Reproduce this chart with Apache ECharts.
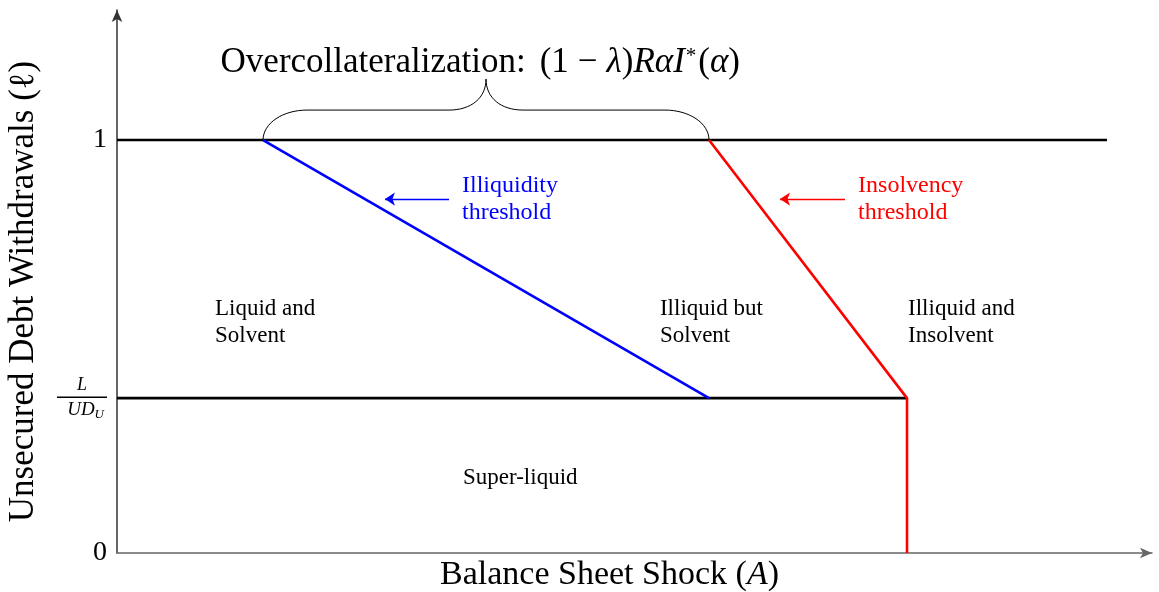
<!DOCTYPE html>
<html>
<head>
<meta charset="utf-8">
<script src="https://cdn.jsdelivr.net/npm/echarts@6/dist/echarts.min.js"></script>
<style>
  html, body { margin: 0; padding: 0; background: #fff; }
  #chart { width: 1159px; height: 592px; }
</style>
</head>
<body>
<div id="chart"></div>
<script>
const serif = '"Liberation Serif", "Times New Roman", serif';

const xMax = 10;
const yMax = 1.315;
const fracTick = 0.375;
const yTicks = [0, fracTick, 1];

// thresholds (x = balance sheet shock, y = withdrawals)
const topLine = [[0, 1], [9.565, 1]];
const liquidLine = [[0, fracTick], [7.633, fracTick]];
const illiquidity = [[1.411, 1], [5.72, fracTick]];
const insolvency = [[5.72, 1], [7.633, fracTick], [7.633, 0]];

// brace: [from x, to x, at y]
const brace = [[1.411, 5.72, 1]];
const braceTitle = [[3.51, 1.186]];

const regionLabels = [
  [0.947, 0.559, "Liquid and\nSolvent"],
  [5.246, 0.559, "Illiquid but\nSolvent"],
  [7.643, 0.559, "Illiquid and\nInsolvent"],
  [3.343, 0.182, "Super-liquid"],
];
const illiqNote = [[3.333, 0.856, "Illiquidity\nthreshold"]];
const insolvNote = [[7.16, 0.856, "Insolvency\nthreshold"]];
const illiqArrow = [[3.208, 0.857], [2.589, 0.857]];
const insolvArrow = [[7.034, 0.857], [6.406, 0.857]];

const chart = echarts.init(document.getElementById("chart"));

function textSeries(rows, style) {
  return {
    type: "custom",
    data: rows.map((r) => [r[0], r[1]]),
    silent: true,
    z: 5,
    renderItem(params, api) {
      const p = api.coord([api.value(0), api.value(1)]);
      return {
        type: "text",
        x: p[0],
        y: p[1],
        style: Object.assign({ text: rows[params.dataIndex][2] }, style),
      };
    },
  };
}

function lineSeries(data, color) {
  return {
    type: "line",
    data,
    symbol: "none",
    silent: true,
    lineStyle: { color, width: 2.6 },
  };
}

function arrowSeries(coords, color) {
  return {
    type: "lines",
    coordinateSystem: "cartesian2d",
    silent: true,
    symbol: ["none", "arrow"],
    symbolSize: 10,
    lineStyle: { color, width: 1.3, opacity: 1 },
    data: [{ coords }],
  };
}

chart.setOption({
  animation: false,
  backgroundColor: "#fff",
  grid: { left: 117, right: 7, top: 10, bottom: 39, outerBoundsMode: "none" },
  xAxis: {
    type: "value",
    min: 0,
    max: xMax,
    name: "{a|Balance Sheet Shock (}{i|A}{a|)}",
    nameLocation: "middle",
    nameGap: 5,
    nameTextStyle: {
      padding: [0, 50, 0, 0],
      rich: {
        a: { fontFamily: serif, fontSize: 34, color: "#000" },
        i: { fontFamily: serif, fontSize: 34, fontStyle: "italic", color: "#000" },
      },
    },
    axisLine: {
      onZero: false,
      symbol: ["none", "arrow"],
      symbolSize: [8, 12],
      lineStyle: { color: "#666", width: 1.5 },
    },
    axisTick: { show: false },
    axisLabel: { show: false },
    splitLine: { show: false },
  },
  yAxis: {
    type: "value",
    min: 0,
    max: yMax,
    name: "Unsecured Debt Withdrawals (\u2113)",
    nameLocation: "middle",
    nameGap: 76,
    nameTextStyle: {
      fontFamily: serif,
      fontSize: 35,
      color: "#000",
      padding: [0, 20, 0, 0],
    },
    axisLine: {
      onZero: false,
      symbol: ["none", "arrow"],
      symbolSize: [8, 12],
      lineStyle: { color: "#333", width: 1.5 },
    },
    axisTick: { show: false },
    splitLine: { show: false },
    axisLabel: {
      customValues: yTicks,
      margin: 10,
      fontFamily: serif,
      fontSize: 28,
      color: "#000",
      formatter(v) {
        if (v === fracTick) {
          return "{n|L}\n{bar| }\n{d|UD}{s|U}";
        }
        return String(v);
      },
      rich: {
        n: { fontFamily: serif, fontStyle: "italic", fontSize: 18, width: 50, align: "center", lineHeight: 20, color: "#000" },
        bar: { width: 50, height: 1.5, lineHeight: 4, backgroundColor: "#000", fontSize: 1 },
        d: { fontFamily: serif, fontStyle: "italic", fontSize: 19, lineHeight: 22, color: "#000" },
        s: { fontFamily: serif, fontStyle: "italic", fontSize: 13, lineHeight: 14, verticalAlign: "bottom", padding: [0, 3, 0, 0], color: "#000" },
      },
    },
  },
  series: [
    lineSeries(topLine, "#000"),
    lineSeries(liquidLine, "#000"),
    lineSeries(illiquidity, "#0000ff"),
    lineSeries(insolvency, "#ff0000"),
    arrowSeries(illiqArrow, "#0000ff"),
    arrowSeries(insolvArrow, "#ff0000"),
    {
      type: "custom",
      data: brace,
      silent: true,
      renderItem(params, api) {
        const a = api.coord([api.value(0), api.value(2)]);
        const b = api.coord([api.value(1), api.value(2)]);
        const y0 = a[1];
        const yf = y0 - 30;
        const yt = y0 - 61;
        const xm = (a[0] + b[0]) / 2;
        const st = { stroke: "#000", fill: "none", lineWidth: 1 };
        const bez = (x1, y1, c1x, c1y, c2x, c2y, x2, y2) => ({
          type: "bezierCurve",
          shape: { x1, y1, cpx1: c1x, cpy1: c1y, cpx2: c2x, cpy2: c2y, x2, y2 },
          style: st,
        });
        return {
          type: "group",
          children: [
            bez(a[0], y0, a[0], y0 - 17, a[0] + 20, yf, a[0] + 44, yf),
            { type: "line", shape: { x1: a[0] + 44, y1: yf, x2: xm - 37, y2: yf }, style: st },
            bez(xm - 37, yf, xm - 15, yf, xm, yf - 12, xm, yt),
            bez(xm, yt, xm, yf - 12, xm + 15, yf, xm + 37, yf),
            { type: "line", shape: { x1: xm + 37, y1: yf, x2: b[0] - 44, y2: yf }, style: st },
            bez(b[0] - 44, yf, b[0] - 20, yf, b[0], y0 - 17, b[0], y0),
          ],
        };
      },
    },
    textSeries(
      braceTitle.map((r) => [r[0], r[1], "{t|Overcollateralization:}{g|(1}{m|\u2212}{i|\u03bb}{t|)}{i|R\u03b1I}{sup|*}{t|(}{i|\u03b1}{t|)}"]),
      {
        align: "center",
        verticalAlign: "middle",
        rich: {
          t: { fontFamily: serif, fontSize: 35, fill: "#000" },
          g: { fontFamily: serif, fontSize: 35, fill: "#000", padding: [0, 0, 0, 14] },
          m: { fontFamily: serif, fontSize: 35, fill: "#000", padding: [0, 9, 0, 9] },
          i: { fontFamily: serif, fontSize: 35, fontStyle: "italic", fill: "#000" },
          sup: { fontFamily: serif, fontSize: 21, fill: "#000", padding: [0, 2, 14, 1] },
        },
      }
    ),
    textSeries(regionLabels, {
      fontFamily: serif,
      fontSize: 23,
      lineHeight: 27,
      fill: "#000",
      align: "left",
      verticalAlign: "middle",
    }),
    textSeries(illiqNote, {
      fontFamily: serif,
      fontSize: 24,
      lineHeight: 27,
      fill: "#0000ff",
      align: "left",
      verticalAlign: "middle",
    }),
    textSeries(insolvNote, {
      fontFamily: serif,
      fontSize: 24,
      lineHeight: 27,
      fill: "#ff0000",
      align: "left",
      verticalAlign: "middle",
    }),
  ],
});

window.addEventListener("resize", () => chart.resize());
</script>
</body>
</html>
